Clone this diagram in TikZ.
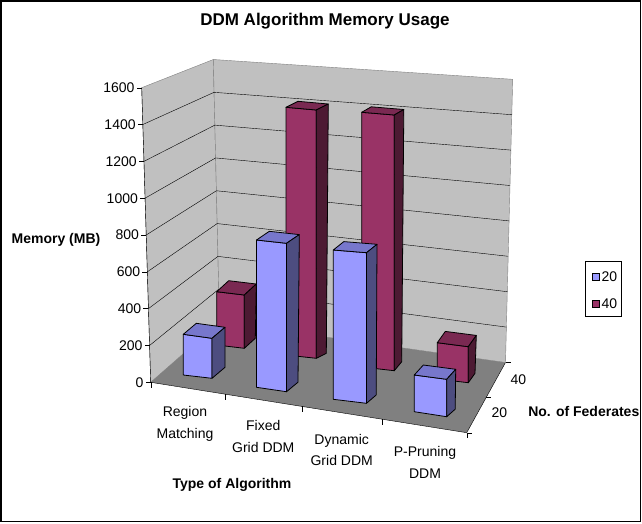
\documentclass[tikz,border=0pt]{standalone}
\usepackage{fontspec}
\setmainfont{Liberation Sans}
\definecolor{wallgray}{HTML}{C0C0C0}
\definecolor{floorgray}{HTML}{808080}
\definecolor{blufront}{HTML}{9999FF}
\definecolor{blutop}{HTML}{7777CC}
\definecolor{bluside}{HTML}{4D4D80}
\definecolor{marfront}{HTML}{993366}
\definecolor{martop}{HTML}{7A2952}
\definecolor{marside}{HTML}{4D1A33}
\tikzset{
  ticklab/.style={font=\fontsize{14}{16}\selectfont,inner sep=0pt},
  catlab/.style={font=\fontsize{14}{21.5}\selectfont,inner sep=0pt,align=center},
  axtitle/.style={font=\bfseries\fontsize{14}{16}\selectfont,inner sep=0pt},
  barface/.style={draw=black,line width=0.8pt,line join=round},
}

\begin{document}
\begin{tikzpicture}[x=1pt,y=-1pt]

\useasboundingbox (0,0) rectangle (642,523);
\draw[line width=1.2pt] (1,1) rectangle (640.5,521.5);

\node[font=\bfseries\fontsize{17}{20}\selectfont,anchor=base] (title) at (325,25) {DDM Algorithm Memory Usage};

\filldraw[fill=wallgray,draw=floorgray] (141.7,87.7) -- (213.3,59.5) -- (219.5,322) -- (150.7,382.3) -- cycle;
\filldraw[fill=wallgray,draw=floorgray] (213.3,59.5) -- (512.7,79.3) -- (505.5,362.5) -- (219.5,322) -- cycle;
\fill[floorgray] (150.7,382.3) -- (219.5,322) -- (505.5,362.5) -- (466.7,432.7) -- cycle;

\foreach \v in {1,...,7} {
	\draw (150.7-9*\v/8,382.3-294.6*\v/8) -- (219.5-6.2*\v/8,322-262.5*\v/8) -- (505.5+7.2*\v/8,362.5-283.2*\v/8);
}

\draw (141.7,87.7) -- (150.7,382.3);
\foreach \v in {0,...,8} {
	\pgfmathtruncatemacro\val{200*\v}
	\draw (150.7-9*\v/8,382.3-294.6*\v/8) -- ++(-5,0) node [ticklab,anchor=east,xshift=-2pt] (v\v) {\val};
}

\draw (150.7,382.3) -- (466.7,432.7);
\foreach \x/\y in {150.7/382.3,225/394.1,301.7/406.4,381.7/419.1,466.7/432.7} {
	\draw (\x,\y) -- ++(0,5.5);
}
\draw (466.7,432.7) -- (505.5,362.5);
\foreach \x/\y in {466.7/432.7,486.1/397.6,505.5/362.5} {
	\draw (\x,\y) -- ++(5,0);
}

\foreach \xa/\xb/\ylt/\yrt/\ylb/\yrb/\dtx/\dty/\dbx/\dby/\cf/\ct/\cs in {
	216.7/244.3/291.7/295/345/348.3/12/-11/11/-10/marfront/martop/marside,
	286/316.3/107.3/110/355/358.3/12/-6/10/-5/marfront/martop/marside,
	361.7/394.3/112.3/115/367/370.7/9.5/-5.5/7.4/-9/marfront/martop/marside,
	437.3/468.3/342.7/346.7/379/382.7/8/-11.3/6.7/-9.4/marfront/martop/marside,
	183.3/212/334.3/338.3/375/378.3/13/-11/13/-11/blufront/blutop/bluside,
	256.5/286.5/240/243.3/387.3/391.7/12.8/-8.7/11.5/-9.5/blufront/blutop/bluside,
	333.3/366.5/250/252.7/399.3/403.3/10.5/-8.4/9.7/-8.3/blufront/blutop/bluside,
	414.3/446.7/375/379.3/411.7/416.7/9/-10/8.5/-7.5/blufront/blutop/bluside} {
	\filldraw [barface,fill=\cf] (\xa,\ylt) -- (\xb,\yrt) -- (\xb,\yrb) -- (\xa,\ylb) -- cycle;
	\filldraw [barface,fill=\ct] (\xa,\ylt) -- (\xb,\yrt) -- (\xb+\dtx,\yrt+\dty) -- (\xa+\dtx,\ylt+\dty) -- cycle;
	\filldraw [barface,fill=\cs] (\xb,\yrt) -- (\xb+\dtx,\yrt+\dty) -- (\xb+\dbx,\yrb+\dby) -- (\xb,\yrb) -- cycle;
}

\node [catlab] (rm) at (185,424) {Region\\Matching};
\node [catlab] (fg) at (263.3,436.5) {Fixed\\Grid DDM};
\node [catlab] (dg) at (341.7,450) {Dynamic\\Grid DDM};
\node [catlab] (pp) at (425,462.5) {P-Pruning\\DDM};
\node [axtitle] (typ) at (232,485) {Type of Algorithm};

\node [ticklab] (d40) at (518.3,379.3) {40};
\node [ticklab] (d20) at (499.3,412.7) {20};
\node [axtitle] (fed) at (583.8,411) {No. of Federates};

\node [axtitle] (mem) at (56,240) {Memory (MB)};

\draw [line width=0.6pt] (585.7,261.7) rectangle (621.7,316.7);
\filldraw [fill=blufront] (591.7,272.7) rectangle (599,280);
\node [ticklab,anchor=west] (l20) at (601.5,276.3) {20};
\filldraw [fill=marfront] (591.7,300) rectangle (599,307.3);
\node [ticklab,anchor=west] (l40) at (601.5,303.6) {40};

\end{tikzpicture}
\end{document}
